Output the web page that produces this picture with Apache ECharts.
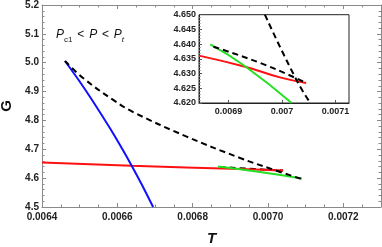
<!DOCTYPE html>
<html><head><meta charset="utf-8">
<script src="https://cdn.jsdelivr.net/npm/echarts@6/dist/echarts.min.js"></script>
<style>html,body{margin:0;padding:0;background:#fff}#c{width:382px;height:247px}</style>
</head><body><div id="c"></div>
<script>
// ---- main plot data ----
const blueT = [0.006461, 0.0064972, 0.0065329, 0.0065805, 0.0066147, 0.0066381, 0.0066655, 0.006695];
const blueG = [5.006, 4.9401, 4.8708, 4.7727, 4.6975, 4.6431, 4.5762, 4.5];
const dashT = [0.006461, 0.006509, 0.006589, 0.006642, 0.006784, 0.006926, 0.007005, 0.00709];
const dashG = [5.006, 4.947, 4.871, 4.829, 4.744, 4.6698, 4.6334, 4.5967];
const redT = [0.0064, 0.006638, 0.006926, 0.00704];
const redG = [4.654, 4.643, 4.6317, 4.6265];
const greenT = [0.006867, 0.006979, 0.00709];
const greenG = [4.6403, 4.6213, 4.599];
const dashLowT = [0.006872, 0.006965, 0.00704];
const dashLowG = [4.6385, 4.6315, 4.6265];
// ---- inset data ----
const inRedT = [0.006845, 0.006931, 0.006996, 0.007045];
const inRedG = [4.6361, 4.6323, 4.6287, 4.6268];
const inGreenT = [0.006866, 0.006931, 0.007018];
const inGreenG = [4.6399, 4.6325, 4.62];
const inDashLowT = [0.006872, 0.006965, 0.007045];
const inDashLowG = [4.6391, 4.6332, 4.6268];
const inDashSteepT = [0.006968, 0.007027, 0.007053];
const inDashSteepG = [4.65, 4.6278, 4.62];
// ---- ticks ----
const insetXTicks = [0.0069, 0.007, 0.0071];

const pts = (T, G) => T.map((t, i) => [t, G[i]]);
const gray = '#8a8a8a';
const lblFont = {fontFamily: 'Liberation Sans, Arial', fontWeight: 'bold', fontSize: 10, color: '#222'};

function mainX(pos, showLabel) {
  return {
    type: 'value', gridIndex: 0, position: pos, min: 0.0064, max: 0.0073, interval: 0.0002,
    axisLine: {show: true, lineStyle: {color: gray, width: 1}},
    axisTick: {show: true, inside: true, length: 4, lineStyle: {color: gray}},
    minorTick: {show: true, splitNumber: 4, length: 2.5, lineStyle: {color: gray}},
    splitLine: {show: false},
    axisLabel: Object.assign({show: showLabel, margin: 5, showMaxLabel: false,
      formatter: v => v.toFixed(4)}, lblFont),
    name: showLabel ? 'T' : '', nameLocation: 'middle', nameGap: 24,
    nameTextStyle: {fontFamily: 'Liberation Sans, Arial', fontWeight: 'bold', fontStyle: 'italic', fontSize: 15, color: '#111'}
  };
}
function mainY(pos, showLabel) {
  return {
    type: 'value', gridIndex: 0, position: pos, min: 4.5, max: 5.2, interval: 0.1,
    axisLine: {show: true, lineStyle: {color: gray, width: 1}},
    axisTick: {show: true, inside: true, length: 4, lineStyle: {color: gray}},
    minorTick: {show: true, splitNumber: 5, length: 2.5, lineStyle: {color: gray}},
    splitLine: {show: false},
    axisLabel: Object.assign({show: showLabel, margin: 3, formatter: v => v.toFixed(1)}, lblFont),
    name: showLabel ? 'G' : '', nameLocation: 'middle', nameGap: 21, nameRotate: 90,
    nameTextStyle: {fontFamily: 'Liberation Sans, Arial', fontWeight: 'bold', fontSize: 15, color: '#111'}
  };
}

const chart = echarts.init(document.getElementById('c'), null, {renderer: 'canvas'});
chart.setOption({
  animation: false,
  backgroundColor: '#fff',
  grid: [
    {left: 42, top: 5, right: 1, bottom: 40, containLabel: false, outerBoundsMode: 'none'},
    {left: 199, top: 14.7, width: 150, height: 88.3, show: true, backgroundColor: '#fff',
     borderColor: '#222', borderWidth: 1, z: 5, containLabel: false, outerBoundsMode: 'none'}
  ],
  xAxis: [
    mainX('bottom', true),
    mainX('top', false),
    {type: 'value', gridIndex: 1, min: 0.006845, max: 0.007125,
     axisLine: {show: true, lineStyle: {color: '#222'}},
     axisTick: {show: true, inside: true, length: 3, customValues: insetXTicks, lineStyle: {color: '#555'}},
     splitLine: {show: false},
     axisLabel: Object.assign({margin: 4, customValues: insetXTicks,
       formatter: v => String(+v.toFixed(4))}, lblFont, {fontSize: 9}), z: 6}
  ],
  yAxis: [
    mainY('left', true),
    mainY('right', false),
    {type: 'value', gridIndex: 1, min: 4.62, max: 4.65, interval: 0.005,
     axisLine: {show: true, lineStyle: {color: '#222'}},
     axisTick: {show: true, inside: true, length: 3, lineStyle: {color: '#555'}},
     minorTick: {show: true, splitNumber: 5, length: 1.5, lineStyle: {color: '#777'}},
     splitLine: {show: false},
     axisLabel: Object.assign({margin: 3, formatter: v => v.toFixed(3)}, lblFont, {fontSize: 9}), z: 6}
  ],
  series: [
    {type: 'line', xAxisIndex: 0, yAxisIndex: 0, data: pts(dashLowT, dashLowG), smooth: true, symbol: 'none',
     lineStyle: {color: '#000', width: 2, type: [6, 4]}},
    {type: 'line', xAxisIndex: 0, yAxisIndex: 0, data: pts(redT, redG), smooth: true, symbol: 'none',
     lineStyle: {color: '#ff1010', width: 2}},
    {type: 'line', xAxisIndex: 0, yAxisIndex: 0, data: pts(greenT, greenG), smooth: true, symbol: 'none',
     lineStyle: {color: '#22e022', width: 2}},
    {type: 'line', xAxisIndex: 0, yAxisIndex: 0, data: pts(blueT, blueG), smooth: 0.3, symbol: 'none',
     lineStyle: {color: '#1010ff', width: 2}},
    {type: 'line', xAxisIndex: 0, yAxisIndex: 0, data: pts(dashT, dashG), smooth: 0.4, symbol: 'none',
     lineStyle: {color: '#000', width: 2, type: [6, 4]}},
    {type: 'line', xAxisIndex: 2, yAxisIndex: 2, data: pts(inRedT, inRedG), smooth: true, symbol: 'none', z: 7,
     lineStyle: {color: '#ff1010', width: 2}},
    {type: 'line', xAxisIndex: 2, yAxisIndex: 2, data: pts(inGreenT, inGreenG), smooth: true, symbol: 'none', z: 7,
     lineStyle: {color: '#22e022', width: 2}},
    {type: 'line', xAxisIndex: 2, yAxisIndex: 2, data: pts(inDashLowT, inDashLowG), smooth: true, symbol: 'none', z: 7,
     lineStyle: {color: '#000', width: 2, type: [6, 4]}},
    {type: 'line', xAxisIndex: 2, yAxisIndex: 2, data: pts(inDashSteepT, inDashSteepG), smooth: true, symbol: 'none', z: 7,
     lineStyle: {color: '#000', width: 2, type: [6, 4]}}
  ],
  graphic: [
    {type: 'text', x: 56, y: 25, z: 10,
     style: {
       text: '{i|P}{s|c1}{n| < }{i|P}{n| < }{i|P}{st|t}',
       rich: {
         i: {fontFamily: 'Liberation Sans, Arial', fontStyle: 'italic', fontSize: 12, fill: '#111', lineHeight: 16, verticalAlign: 'bottom'},
         n: {fontFamily: 'Liberation Sans, Arial', fontSize: 12, fill: '#111', lineHeight: 16, verticalAlign: 'bottom', padding: [0, 1.5, 0, 1.5]},
         s: {fontFamily: 'Liberation Sans, Arial', fontSize: 8, fill: '#111', lineHeight: 16, verticalAlign: 'bottom', padding: [0, 0, -3, 0]},
         st: {fontFamily: 'Liberation Sans, Arial', fontStyle: 'italic', fontSize: 8, fill: '#111', lineHeight: 16, verticalAlign: 'bottom', padding: [0, 0, -3, 0]}
       }
     }}
  ]
});
</script></body></html>
